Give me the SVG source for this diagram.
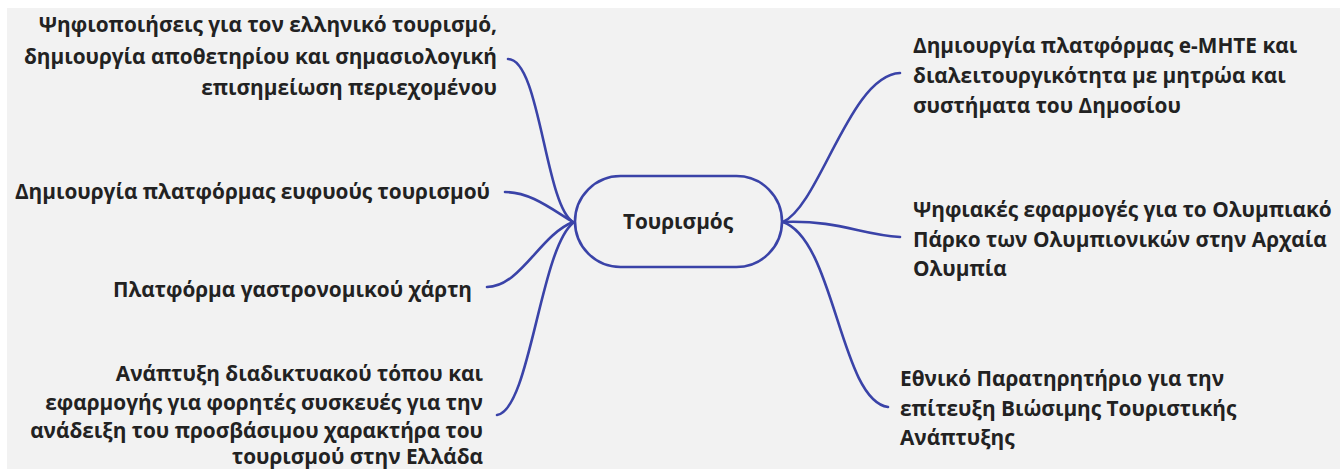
<svg xmlns="http://www.w3.org/2000/svg" width="1340" height="469" viewBox="0 0 1340 469">
<style>
.t{font-family:"Open Sans","Noto Sans","DejaVu Sans",sans-serif;font-weight:700;font-size:20.8px;fill:#222;}
.r{text-anchor:end;}
.c{fill:none;stroke:#3a43a8;stroke-width:2.6;stroke-linecap:round;}
</style>
<rect x="0" y="0" width="1340" height="469" fill="#ffffff"/>
<rect x="7" y="8" width="1333" height="461" fill="#f2f2f2"/>
<g id="connectors">
<path class="c" d="M508,59 C540,59 545,205 573,222"/>
<path class="c" d="M505,192 C530,192 550,208 573,222"/>
<path class="c" d="M487,287 C520,287 540,235 573,222"/>
<path class="c" d="M497,415 C530,410 540,250 573,223"/>
<path class="c" d="M783,222 C820,205 850,75 900,73"/>
<path class="c" d="M783,222 C840,220 860,235 900,237"/>
<path class="c" d="M783,222 C835,240 840,400 888,407"/>
</g>
<g id="center">
<rect x="575" y="176" width="207" height="91" rx="45.5" fill="none" stroke="#3a43a8" stroke-width="2.6"/>
<text class="t" x="678" y="229" text-anchor="middle">Τουρισμός</text>
</g>
<g id="n1">
<text class="t r" x="497" y="32">Ψηφιοποιήσεις για τον ελληνικό τουρισμό,</text>
<text class="t r" x="497" y="64">δημιουργία αποθετηρίου και σημασιολογική</text>
<text class="t r" x="497" y="95">επισημείωση περιεχομένου</text>
</g>
<g id="n2">
<text class="t r" x="490" y="199">Δημιουργία πλατφόρμας ευφυούς τουρισμού</text>
</g>
<g id="n3">
<text class="t r" x="472" y="297">Πλατφόρμα γαστρονομικού χάρτη</text>
</g>
<g id="n4">
<text class="t r" x="483" y="381">Ανάπτυξη διαδικτυακού τόπου και</text>
<text class="t r" x="483" y="410">εφαρμογής για φορητές συσκευές για την</text>
<text class="t r" x="483" y="438">ανάδειξη του προσβάσιμου χαρακτήρα του</text>
<text class="t r" x="483" y="464">τουρισμού στην Ελλάδα</text>
</g>
<g id="n5">
<text class="t" x="913" y="53">Δημιουργία πλατφόρμας e-ΜΗΤΕ και</text>
<text class="t" x="913" y="83">διαλειτουργικότητα με μητρώα και</text>
<text class="t" x="913" y="113">συστήματα του Δημοσίου</text>
</g>
<g id="n6">
<text class="t" x="913" y="217">Ψηφιακές εφαρμογές για το Ολυμπιακό</text>
<text class="t" x="913" y="247">Πάρκο των Ολυμπιονικών στην Αρχαία</text>
<text class="t" x="913" y="276">Ολυμπία</text>
</g>
<g id="n7">
<text class="t" x="900" y="386">Εθνικό Παρατηρητήριο για την</text>
<text class="t" x="900" y="416">επίτευξη Βιώσιμης Τουριστικής</text>
<text class="t" x="900" y="445">Ανάπτυξης</text>
</g>
</svg>
